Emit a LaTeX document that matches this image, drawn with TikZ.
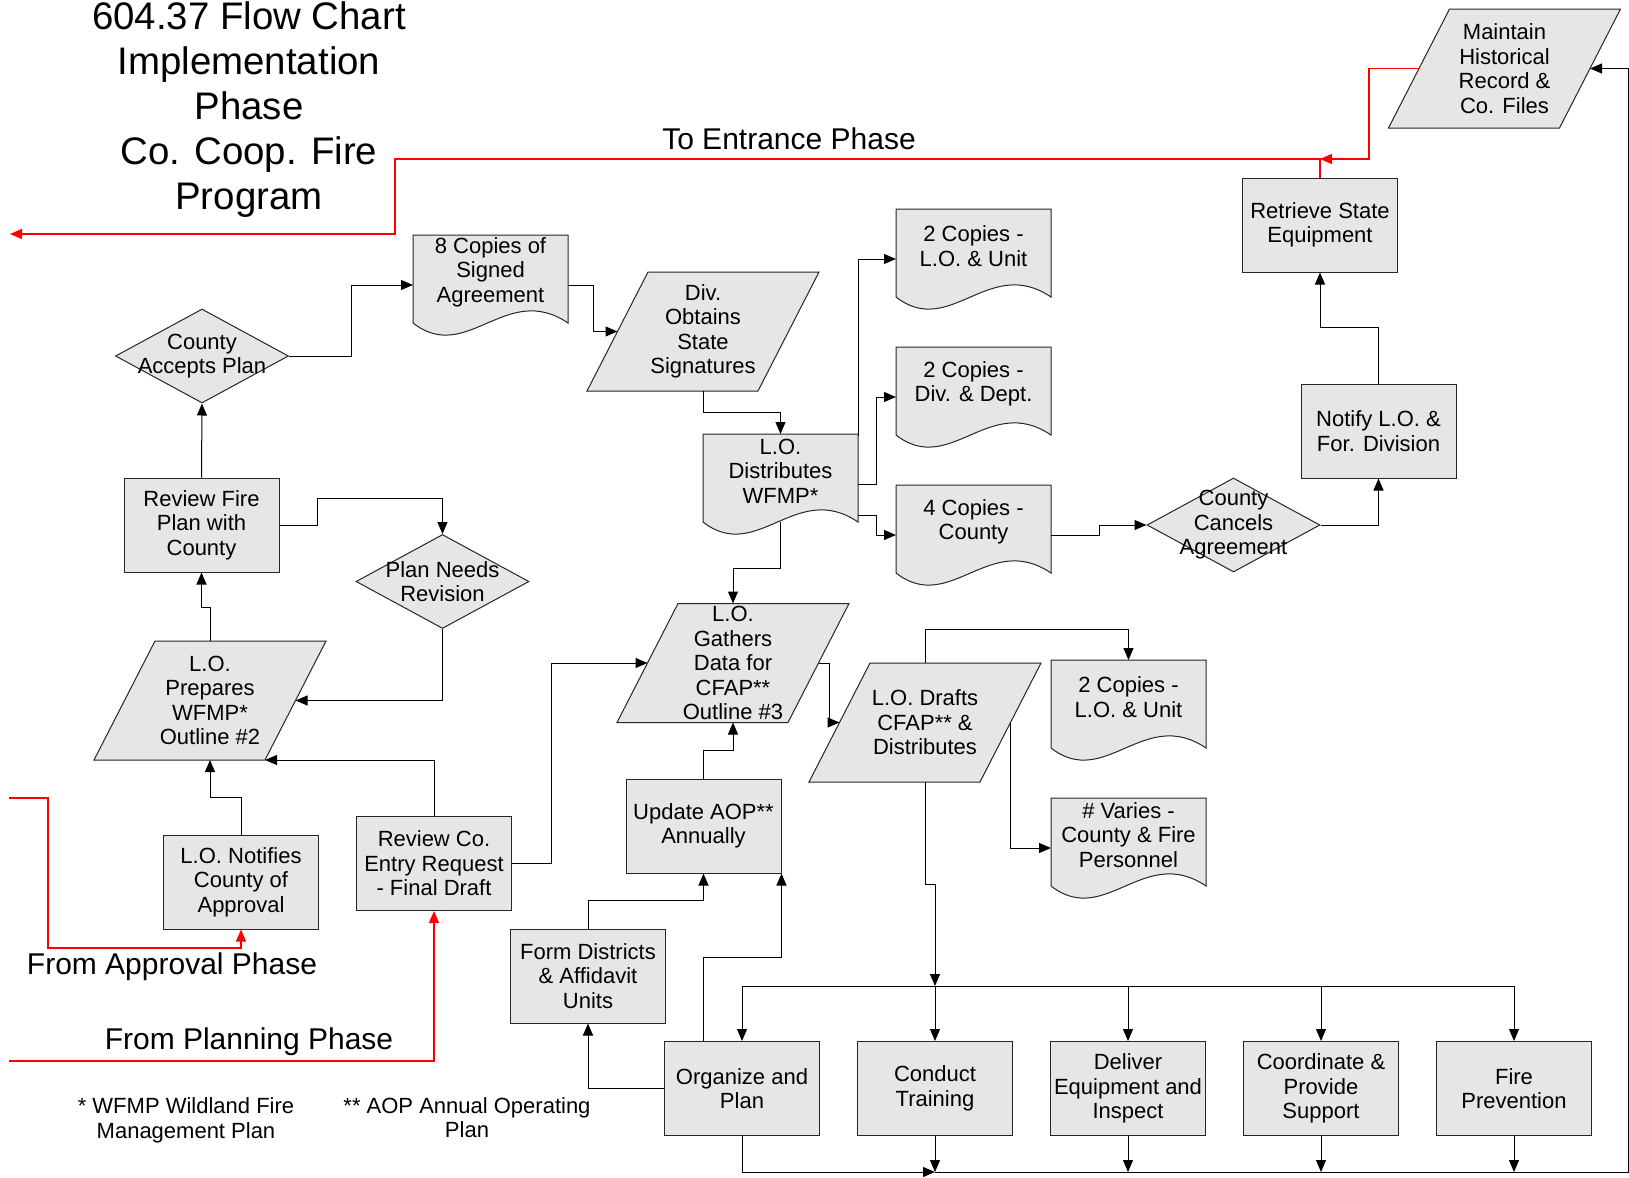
\documentclass[tikz,border=0pt]{standalone}
\usepackage{fontspec}
\setmainfont{Liberation Sans}
\usetikzlibrary{arrows.meta,shapes.geometric,calc}
\definecolor{boxfill}{HTML}{E6E6E6}
\tikzset{
  shapebox/.style={draw=black!85, fill=boxfill, line width=0.5pt},
  rbox/.style={shapebox, rectangle, minimum width=77.5pt, minimum height=47pt, inner sep=0pt, align=center, font=\fontsize{11}{12.25}\selectfont},
  dbox/.style={shapebox, diamond, minimum width=86.5pt, minimum height=47pt, inner sep=0pt},
  txt/.style={align=center, inner sep=0pt, font=\fontsize{11}{12.25}\selectfont},
  conn/.style={draw=black, line width=0.5pt, -{Triangle[length=6pt,width=5pt]}},
  plain/.style={draw=black, line width=0.5pt},
  rconn/.style={draw=red, line width=0.6pt, -{Triangle[length=6pt,width=5pt]}},
  rline/.style={draw=red, line width=0.6pt},
  big/.style={font=\fontsize{15}{18}\selectfont, inner sep=0pt},
}
\newcommand{\para}[4]{%
  \filldraw[shapebox] ({#2-55},{#3-59.5}) -- ({#2+116},{#3-59.5}) -- ({#2+55},{#3+59.5}) -- ({#2-116},{#3+59.5}) -- cycle;
  \node[txt] (#1) at (#2,#3) {#4};
  \coordinate (#1-l) at ({#2-85.5},#3);
  \coordinate (#1-r) at ({#2+85.5},#3);
  \coordinate (#1-t) at (#2,{#3-59.5});
  \coordinate (#1-b) at (#2,{#3+59.5});
  \coordinate (#1-br) at ({#2+55},{#3+59.5});
}
\newcommand{\docshape}[4]{%
  \filldraw[shapebox] (#2,#3) -- ({#2+155},#3) -- ({#2+155},{#3+88}) .. controls ({#2+93},{#3+46}) and ({#2+54},{#3+130}) .. (#2,{#3+88}) -- cycle;
  \node[txt] (#1) at ({#2+77.5},{#3+37}) {#4};
  \coordinate (#1-w) at (#2,{#3+50});
  \coordinate (#1-e) at ({#2+155},{#3+50});
  \coordinate (#1-e1) at ({#2+155},{#3+2});
  \coordinate (#1-e2) at ({#2+155},{#3+81});
  \coordinate (#1-t) at ({#2+77.5},#3);
  \coordinate (#1-b) at ({#2+77.5},{#3+88});
}
\begin{document}
\begin{tikzpicture}[x=0.5pt,y=-0.5pt]
\useasboundingbox (0,0) rectangle (1629,1178);

% title
\node[align=center, inner sep=0pt, font=\fontsize{19.2}{22.5}\selectfont] (title) at (249,110) {604.37 Flow Chart\\Implementation\\Phase\\Co. Coop. Fire\\Program};

% rectangles
\node[rbox] (retrieve) at (1320,225) {Retrieve State\\Equipment};
\node[rbox] (notify) at (1378.5,431) {Notify L.O. \&\\For. Division};
\node[rbox] (reviewfire) at (201.5,525) {Review Fire\\Plan with\\County};
\node[rbox] (lonotify) at (241,882) {L.O. Notifies\\County of\\Approval};
\node[rbox] (reviewco) at (434,863.5) {Review Co.\\Entry Request\\- Final Draft};
\node[rbox] (formdist) at (588,976) {Form Districts\\\& Affidavit\\Units};
\node[rbox] (update) at (703.5,826) {Update AOP**\\Annually};
\node[rbox] (organize) at (742,1088.5) {Organize and\\Plan};
\node[rbox] (conduct) at (935,1088.5) {Conduct\\Training};
\node[rbox] (deliver) at (1128,1088.5) {Deliver\\Equipment and\\Inspect};
\node[rbox] (coord) at (1321,1088.5) {Coordinate \&\\Provide\\Support};
\node[rbox] (fireprev) at (1514,1088.5) {Fire\\Prevention};

% diamonds
\node[dbox] (accepts) at (202,356) {};
\node[txt] (acceptsT) at (202,356) {County\\Accepts Plan};
\node[dbox] (needs) at (442.5,581.5) {};
\node[txt] (needsT) at (442.5,581.5) {Plan Needs\\Revision};
\node[dbox] (cancels) at (1233.5,525) {};
\node[txt] (cancelsT) at (1233.5,525) {County\\Cancels\\Agreement};

% parallelograms
\para{maintain}{1504.5}{68.5}{Maintain\\Historical\\Record \&\\Co. Files}
\para{divobt}{703}{331.5}{Div.\\Obtains\\State\\Signatures}
\para{loprep}{210}{700.5}{L.O.\\Prepares\\WFMP*\\Outline \#2}
\para{logath}{733}{663}{L.O.\\Gathers\\Data for\\CFAP**\\Outline \#3}
\para{lodraft}{925}{722.5}{L.O. Drafts\\CFAP** \&\\Distributes}

% documents
\docshape{eight}{413}{235}{8 Copies of\\Signed\\Agreement}
\docshape{lodist}{703}{434}{L.O.\\Distributes\\WFMP*}
\docshape{docA}{896}{209}{2 Copies -\\L.O. \& Unit}
\docshape{docB}{896}{347}{2 Copies -\\Div. \& Dept.}
\docshape{docC}{896}{485}{4 Copies -\\County}
\docshape{docD}{1051}{660}{2 Copies -\\L.O. \& Unit}
\docshape{docE}{1051}{798}{\# Varies -\\County \& Fire\\Personnel}

% red connectors
\coordinate (redj) at (1320,159);
\coordinate (toentr) at (10,234);
\draw[rconn] (maintain-l) -| (1369,159) -- (redj);
\draw[rconn] (retrieve.north) -- (redj) -| (395,234) -- (toentr);
\node[big] (toentrT) at (789,139) {To Entrance Phase};
\coordinate (fromappr) at (9,798);
\draw[rconn] (fromappr) -- (48,798) -- (48,948) -| (lonotify.south);
\node[big] (fromapprT) at (172,967) {From Approval Phase};
\coordinate (fromplan) at (9,1061);
\draw[rconn] (fromplan) -| (reviewco.south);
\node[big] (fromplanT) at (249,1042) {From Planning Phase};

% black connectors
\draw[conn] (notify.north) -- ++(0,-56) -| (retrieve.south);
\draw[conn] (cancels.east) -| (notify.south);
\draw[conn] (docC-e) -- ++(48,0) |- (cancels.west);
\draw[conn] (lodist-e1) |- (docA-w);
\draw[conn] (lodist-e) -- ++(18,0) |- (docB-w);
\draw[conn] (lodist-e2) -- ++(18,0) |- (docC-w);
\draw[conn] (divobt-b) -- ++(0,21) -| (lodist-t);
\draw[conn] (eight-e) -- ++(25,0) |- (divobt-l);
\draw[conn] (accepts.east) -- ++(62,0) |- (eight-w);
\draw[conn] (reviewfire.north) -- (accepts.south);
\draw[conn] (reviewfire.east) -- ++(38,0) -- ++(0,-27) -| (needs.north);
\draw[conn] (needs.south) |- (loprep-r);
\draw[conn] (loprep-t) -- ++(0,-34) -| (reviewfire.south);
\draw[conn] (lonotify.north) -- ++(0,-37) -| (loprep-b);
\draw[conn] (reviewco.north) |- (loprep-br);
\draw[conn] (reviewco.east) -- ++(39,0) |- (logath-l);
\draw[conn] (lodist-b) -- ++(0,46) -| (logath-t);
\draw[conn] (update.north) -- ++(0,-28) -| (logath-b);
\draw[conn] (logath-r) -- ++(10.5,0) |- (lodraft-l);
\draw[conn] (lodraft-t) -- ++(0,-34) -| (docD-t);
\draw[conn] (lodraft-r) |- (docE-w);
\coordinate (bar) at (935,986);
\draw[conn] (lodraft-b) -- ++(0,102) -| (bar);
\draw[plain] (organize.north |- bar) -- (fireprev.north |- bar);
\foreach \n in {organize,conduct,deliver,coord,fireprev}
  \draw[conn] (\n.north |- bar) -- (\n.north);
\draw[conn] (organize.north -| update.south) -- ++(0,-84) -| (update.south east);
\draw[conn] (formdist.north) -- ++(0,-28) -| (update.south);
\draw[conn] (organize.west) -| (formdist.south);
\coordinate (merge) at (935,1172);
\draw[conn] (organize.south) |- (merge);
\foreach \n in {conduct,deliver,coord,fireprev}
  \draw[conn] (\n.south) -- (\n.south |- merge);
\draw[conn] (merge) -- (1628,1172) |- (maintain-r);

% footnotes
\node[txt] (fn1) at (186,1120.5) {* WFMP Wildland Fire\\Management Plan};
\node[txt] (fn2) at (467,1117.5) {** AOP Annual Operating\\Plan};
\end{tikzpicture}
\end{document}
